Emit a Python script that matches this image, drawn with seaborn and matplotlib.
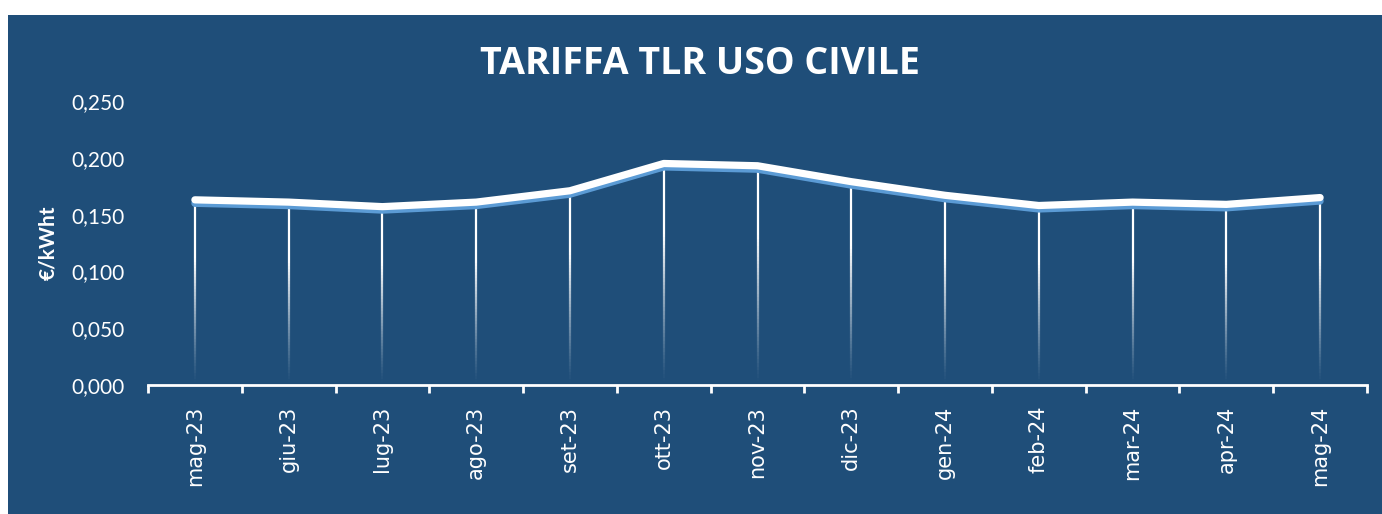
import numpy as np
import pandas as pd
import matplotlib
matplotlib.use("Agg")
import matplotlib.pyplot as plt
import matplotlib.patheffects as pe
from matplotlib.patches import Rectangle
from matplotlib.ticker import FuncFormatter, FixedLocator
import seaborn as sns

# Chart data
MONTHS = ['mag-23', 'giu-23', 'lug-23', 'ago-23', 'set-23', 'ott-23', 'nov-23',
          'dic-23', 'gen-24', 'feb-24', 'mar-24', 'apr-24', 'mag-24']
TARIFF = [0.163, 0.161, 0.157, 0.161, 0.171, 0.195, 0.193,
          0.179, 0.167, 0.158, 0.161, 0.159, 0.165]
Y_TICKS = [0.0, 0.05, 0.10, 0.15, 0.20, 0.25]

TITLE = 'TARIFFA TLR USO CIVILE'
Y_LABEL = '€/kWht'

BG = '#1F4E79'
SHADOW = '#5B9BD5'

sns.set_style('white')
plt.rcParams['font.family'] = ['Lato', 'DejaVu Sans']

df = pd.DataFrame({'pos': np.arange(len(MONTHS)), 'month': MONTHS, 'value': TARIFF})

fig = plt.figure(figsize=(13.82, 5.14), dpi=100)
fig.patch.set_facecolor('white')
bg = Rectangle((8 / 1382, 0), 1 - 8 / 1382, 1 - 15 / 514,
               transform=fig.transFigure, facecolor=BG, edgecolor='none', zorder=-10)
fig.add_artist(bg)

ax = fig.add_axes([148 / 1382, 1 - 385 / 514, (1367 - 148) / 1382, (385 - 101) / 514])
ax.set_facecolor(BG)

# drop lines with a fade towards the axis
n_seg = 60
for x, v in zip(df['pos'], df['value']):
    edges = np.linspace(0, v, n_seg + 1)
    for k in range(n_seg):
        frac = (edges[k] + edges[k + 1]) / 2 / v
        alpha = min(1.0, max(0.0, frac * 1.5 - 0.02)) ** 1.2
        ax.plot([x, x], [edges[k], edges[k + 1]], color='white', lw=1.6,
                alpha=alpha, solid_capstyle='butt', zorder=2)

sns.lineplot(data=df, x='pos', y='value', ax=ax, color='white', lw=5.2,
             zorder=3, solid_capstyle='round', solid_joinstyle='round',
             path_effects=[pe.SimpleLineShadow(offset=(0, -2.5), shadow_color=SHADOW,
                                               alpha=1.0, rho=1.0),
                           pe.Normal()])

ax.set_xlim(-0.5, len(MONTHS) - 0.5)
ax.set_ylim(0, 0.25)
ax.set_yticks(Y_TICKS)
ax.yaxis.set_major_formatter(FuncFormatter(lambda v, p: f'{v:.3f}'.replace('.', ',')))
ax.tick_params(axis='y', length=0, pad=17, labelsize=15, labelcolor='white')

ax.set_xticks(df['pos'])
ax.set_xticklabels(MONTHS, rotation=90, fontsize=15, color='white',
                   family=['DejaVu Sans'])
ax.xaxis.set_minor_locator(FixedLocator(np.arange(-0.5, len(MONTHS), 1.0)))
ax.tick_params(axis='x', which='major', length=0, pad=15)
ax.tick_params(axis='x', which='minor', bottom=True, length=6, width=2,
               color='white', direction='out')

for side in ['top', 'right', 'left']:
    ax.spines[side].set_visible(False)
ax.spines['bottom'].set_color('white')
ax.spines['bottom'].set_linewidth(2)

ax.set_xlabel('')
ax.set_ylabel(Y_LABEL, color='white', fontsize=15, fontweight='bold')
ax.yaxis.set_label_coords(-0.074, 0.5)

fig.text(700 / 1382, 1 - 64 / 514, TITLE, color='white', fontsize=27,
         fontweight='bold', ha='center', va='center', family=['Open Sans', 'DejaVu Sans'])

fig.savefig('out.png', dpi=100, facecolor=fig.get_facecolor())
